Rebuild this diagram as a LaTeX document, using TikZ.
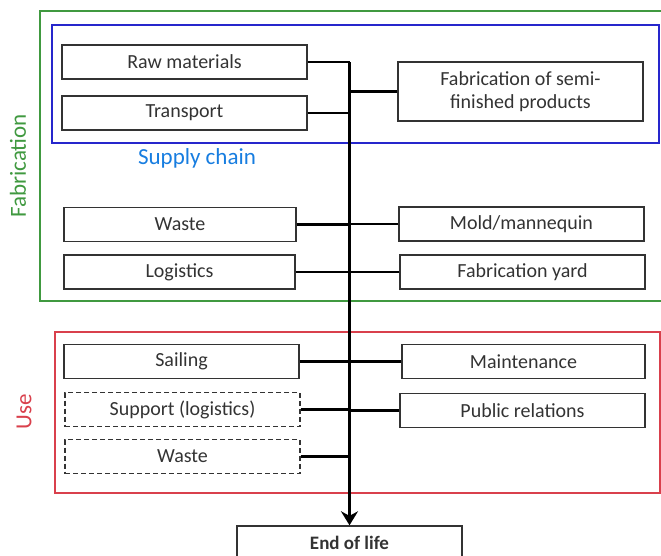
\documentclass[tikz,border=0pt]{standalone}
\usepackage{fontspec}
\setmainfont{Carlito}
\usetikzlibrary{arrows.meta}
\definecolor{FabGreen}{rgb}{0.25,0.6,0.25}
\definecolor{ChainBlue}{rgb}{0.15,0.15,0.8}
\definecolor{UseRed}{rgb}{0.85,0.25,0.3}
\definecolor{BoxGray}{rgb}{0.2,0.2,0.2}
\tikzset{
  stage/.style={draw=BoxGray,text=black!80,line width=1.4pt,minimum height=34pt,font=\fontsize{20}{23}\selectfont,inner sep=0pt,align=center},
  maybe/.style={stage,dashed,dash pattern=on 5pt off 3pt},
  group/.style={font=\fontsize{23}{26}\selectfont},
  link/.style={line width=2.4pt}
}
\begin{document}
\begin{tikzpicture}[x=1pt,y=-1pt]
\useasboundingbox (0,0) rectangle (661,555);
\clip (0,0) rectangle (661,555);

\draw[FabGreen,line width=1.2pt] (40,11) rectangle (664,301);
\draw[ChainBlue,line width=1.2pt] (52,25) rectangle (659,143);
\draw[UseRed,line width=1.2pt] (55,332) rectangle (660,493);

\node[group,FabGreen,rotate=90] (fab) at (18,166) {Fabrication};
\node[group,ChainBlue!60!cyan] (chain) at (197,158) {Supply chain};
\node[group,UseRed,rotate=90] (use) at (24,412) {Use};

\node[stage,minimum width=245pt] (raw) at (184.5,62) {Raw materials};
\node[stage,minimum width=245pt] (trans) at (184.5,113) {Transport};
\node[stage,minimum width=245pt,minimum height=59pt] (semi) at (520.5,91.5) {Fabrication of semi-\\finished products};
\node[stage,minimum width=232pt] (fwaste) at (180,224.5) {Waste};
\node[stage,minimum width=231pt] (logi) at (179.5,272) {Logistics};
\node[stage,minimum width=245pt] (mold) at (521.5,224) {Mold/mannequin};
\node[stage,minimum width=245pt] (yard) at (522.5,272) {Fabrication yard};
\node[stage,minimum width=235pt] (sail) at (181.5,361.5) {Sailing};
\node[maybe,minimum width=235pt] (supp) at (182.5,409.5) {Support (logistics)};
\node[maybe,minimum width=235pt] (uwaste) at (182.5,456.5) {Waste};
\node[stage,minimum width=243pt] (maint) at (523.5,361.5) {Maintenance};
\node[stage,minimum width=245pt] (pr) at (522.5,410.5) {Public relations};
\node[stage,minimum width=225pt,minimum height=34pt,font=\fontsize{19}{22}\selectfont\bfseries] (eol) at (349.5,543) {End of life};

\draw[line width=3.5pt,-{Stealth[length=14pt,width=17pt]}] (raw.east -| eol.north) -- (eol.north);
\foreach \n in {raw,trans,fwaste,logi,sail,supp,uwaste}
  \draw[link] (\n.east) -- (\n.east -| eol.north);
\foreach \n in {semi,mold,yard,maint,pr}
  \draw[link] (\n.west) -- (\n.west -| eol.north);
\end{tikzpicture}
\end{document}
